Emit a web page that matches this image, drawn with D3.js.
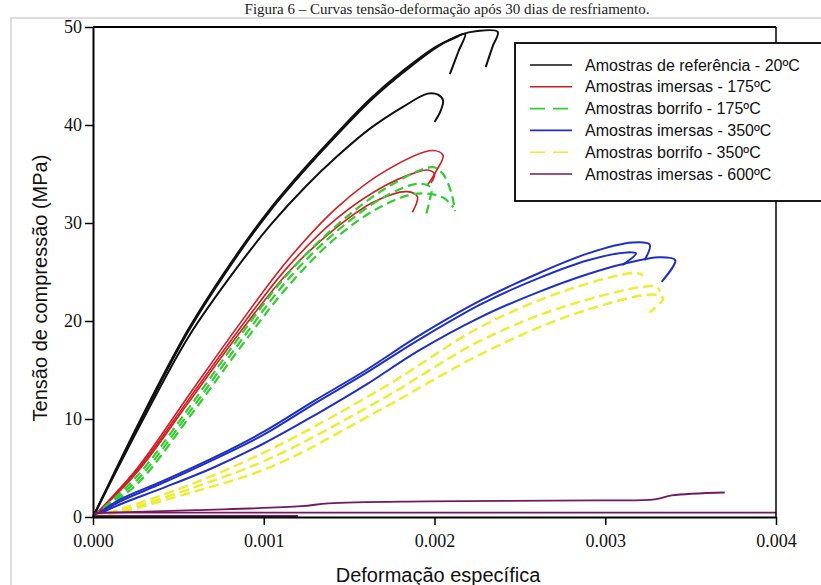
<!DOCTYPE html>
<html>
<head>
<meta charset="utf-8">
<script src="https://cdn.jsdelivr.net/npm/d3@7"></script>
<style>
  body { margin: 0; background: #fff; }
  svg { display: block; }
</style>
</head>
<body>
<svg id="chart" width="821" height="585"></svg>
<script>
// Series names (legend order)
const seriesNames = [
  "Amostras de referência - 20ºC",
  "Amostras imersas - 175ºC",
  "Amostras borrifo - 175ºC",
  "Amostras imersas - 350ºC",
  "Amostras borrifo - 350ºC",
  "Amostras imersas - 600ºC"
];

// Curves: [strain, stress (MPa)]
const ref20a = [[0,0],[0.00028,10],[0.00056,19.2],[0.00085,27],[0.00104,31.5],[0.00125,35.8],[0.00143,39.2],[0.00162,42.6],[0.00182,45.6],[0.00201,48],[0.00212,48.9],[0.00218,49.3],[0.00214,47.5],[0.00209,45.2]];
const ref20b = [[0,0],[0.00028,9.8],[0.00056,19],[0.00085,26.8],[0.00104,31.3],[0.00125,35.6],[0.00143,39],[0.00162,42.4],[0.00182,45.4],[0.00201,47.9],[0.00215,49.2],[0.00225,49.6],[0.00237,49.5],[0.00234,48],[0.0023,45.9]];
const ref20c = [[0,0],[0.00028,9.5],[0.00056,18.4],[0.00085,25.6],[0.00104,29.8],[0.00125,33.8],[0.00143,36.8],[0.00162,39.6],[0.00182,41.9],[0.00196,43.2],[0.00202,43.1],[0.00205,42.5],[0.00203,41.2],[0.002,40.3]];

const im175a = [[0,0],[0.00026,5],[0.000556,12.3],[0.00085,19.5],[0.00114,26.2],[0.00143,31.6],[0.00172,35.4],[0.00199,37.4],[0.00205,36.9],[0.00201,35.3],[0.00196,33.9]];
const im175b = [[0,0],[0.00026,4.8],[0.000556,11.9],[0.00085,19],[0.00114,25.5],[0.00143,30.5],[0.00172,33.9],[0.0019,35.2],[0.00196,35.4],[0.002,35.0],[0.00198,34.1]];
const im175c = [[0,0],[0.00026,4.6],[0.000556,11.6],[0.00085,18.6],[0.00114,24.9],[0.00143,29.6],[0.00165,32.2],[0.00184,33.2],[0.0019,32.7],[0.00189,31.8],[0.00187,31.1]];

const bo175a = [[0,0],[0.00026,4.2],[0.000556,11],[0.00085,18.2],[0.00114,24.8],[0.00143,29.8],[0.00172,33.6],[0.00199,35.7],[0.00205,35],[0.0021,33],[0.00212,31.2]];
const bo175b = [[0,0],[0.00026,3.8],[0.000556,10.5],[0.00085,17.6],[0.00114,24.2],[0.00143,29.2],[0.0017,32.6],[0.0019,34.0],[0.00198,33.6],[0.00197,32.2],[0.00195,30.8]];
const bo175c = [[0,0],[0.00026,3.4],[0.000556,10.0],[0.00085,17.0],[0.00114,23.5],[0.00143,28.6],[0.0017,31.8],[0.0019,33.0],[0.00205,32.6],[0.00211,31.6]];

const im350a = [[0,0],[0.00016,1.8],[0.0004,3.6],[0.0007,6.0],[0.001,8.7],[0.0013,11.9],[0.0016,15.0],[0.0019,18.4],[0.00227,22.1],[0.0026,24.8],[0.0029,26.9],[0.00316,28.0],[0.00326,27.8],[0.00323,26.2]];
const im350b = [[0,0],[0.00016,1.6],[0.0004,3.4],[0.0007,5.8],[0.001,8.4],[0.0013,11.6],[0.0016,14.7],[0.0019,18.0],[0.00227,21.7],[0.0026,24.3],[0.0029,26.2],[0.00313,27.0],[0.00318,26.9],[0.0031,25.7]];
const im350c = [[0,0],[0.00016,1.3],[0.0004,2.9],[0.0007,5.0],[0.001,7.5],[0.0013,10.4],[0.0016,13.5],[0.0019,16.9],[0.00227,20.4],[0.0026,22.9],[0.0029,24.8],[0.0031,25.8],[0.00332,26.5],[0.00341,26.2],[0.00333,24.0]];

const bo350a = [[0,0],[0.00016,0.8],[0.000556,3.2],[0.00104,6.9],[0.00171,13.3],[0.00227,19.4],[0.0028,23.3],[0.00319,24.9],[0.00322,24.6]];
const bo350b = [[0,0],[0.00016,0.6],[0.000556,2.8],[0.00104,6.0],[0.00171,12.2],[0.00227,18.0],[0.0028,21.7],[0.0033,23.5],[0.00332,23.0]];
const bo350c = [[0,0],[0.00016,0.5],[0.000556,2.4],[0.00104,5.1],[0.00171,11.2],[0.00227,16.6],[0.0028,20.6],[0.00328,22.7],[0.00334,22.3],[0.00326,20.9]];

const im600a = [[0,0.4],[0.0006,0.7],[0.00122,1.1],[0.00138,1.4],[0.00195,1.6],[0.00295,1.7],[0.00329,1.8],[0.00339,2.2],[0.0037,2.5]];
const im600b = [[0,0.45],[0.004,0.45]];
const im600c = [[0,0.1],[0.0012,0.1]];

const xTicks = [0, 0.001, 0.002, 0.003, 0.004];
const yTicks = [0, 10, 20, 30, 40, 50];

const colors = ["#111111", "#d01c22", "#33cc33", "#1f2fc4", "#ecec30", "#74195f"];
const dashes = [null, null, "9,5", null, "10,5", null];
const widths = [2, 1.6, 2.2, 2, 2.4, 1.8];

const curves = [
  { s: 0, d: ref20a }, { s: 0, d: ref20b }, { s: 0, d: ref20c },
  { s: 1, d: im175a }, { s: 1, d: im175b }, { s: 1, d: im175c },
  { s: 2, d: bo175a }, { s: 2, d: bo175b }, { s: 2, d: bo175c },
  { s: 3, d: im350a }, { s: 3, d: im350b }, { s: 3, d: im350c },
  { s: 4, d: bo350a }, { s: 4, d: bo350b }, { s: 4, d: bo350c },
  { s: 5, d: im600a }, { s: 5, d: im600b }, { s: 5, d: im600c }
];

const svg = d3.select("#chart");

// light outer frame of the figure
svg.append("rect")
  .attr("x", 11).attr("y", 18)
  .attr("width", 830).attr("height", 600)
  .attr("fill", "none").attr("stroke", "#d4d4d4").attr("stroke-width", 1.5);

// caption
svg.append("text")
  .attr("x", 447).attr("y", 14)
  .attr("text-anchor", "middle")
  .attr("font-family", "Liberation Serif, serif")
  .attr("font-size", 15)
  .attr("fill", "#222")
  .text("Figura 6 – Curvas tensão-deformação após 30 dias de resfriamento.");

const x = d3.scaleLinear().domain([0, 0.004]).range([93, 776]);
const y = d3.scaleLinear().domain([0, 50]).range([517, 27]);

// curves
const line = d3.line()
  .x(d => x(d[0]))
  .y(d => y(d[1]))
  .curve(d3.curveCatmullRom.alpha(0.5));

svg.append("g")
  .selectAll("path")
  .data(curves)
  .enter()
  .append("path")
  .attr("d", d => line(d.d))
  .attr("fill", "none")
  .attr("stroke", d => colors[d.s])
  .attr("stroke-width", d => widths[d.s])
  .attr("stroke-dasharray", d => dashes[d.s])
  .attr("stroke-linejoin", "round");

// frame top / right
svg.append("line")
  .attr("x1", x(0)).attr("x2", x(0.004))
  .attr("y1", y(50)).attr("y2", y(50))
  .attr("stroke", "#000").attr("stroke-width", 2);
svg.append("line")
  .attr("x1", x(0.004)).attr("x2", x(0.004))
  .attr("y1", y(50)).attr("y2", y(0))
  .attr("stroke", "#000").attr("stroke-width", 1.5);

// axes
const xAxis = svg.append("g")
  .attr("transform", `translate(0,${y(0)})`)
  .call(d3.axisBottom(x).tickValues(xTicks).tickFormat(d3.format(".3f")).tickSize(8).tickSizeOuter(0));
const yAxis = svg.append("g")
  .attr("transform", `translate(${x(0)},0)`)
  .call(d3.axisLeft(y).tickValues(yTicks).tickSize(8).tickSizeOuter(0));

[xAxis, yAxis].forEach(g => {
  g.select(".domain").attr("stroke", "#000").attr("stroke-width", 2);
  g.selectAll(".tick line").attr("stroke", "#000").attr("stroke-width", 1.5);
  g.selectAll(".tick text")
    .attr("font-family", "Liberation Serif, serif")
    .attr("font-size", 18)
    .attr("fill", "#111");
});
xAxis.selectAll(".tick text").attr("dy", "1.05em");
yAxis.selectAll(".tick text").attr("x", -11);

// axis titles
svg.append("text")
  .attr("x", 438).attr("y", 582)
  .attr("text-anchor", "middle")
  .attr("font-family", "Liberation Sans, Arial, sans-serif")
  .attr("font-size", 20)
  .attr("fill", "#111")
  .text("Deformação específica");

svg.append("text")
  .attr("transform", "translate(47,288) rotate(-90)")
  .attr("text-anchor", "middle")
  .attr("font-family", "Liberation Sans, Arial, sans-serif")
  .attr("font-size", 20)
  .attr("fill", "#111")
  .text("Tensão de compressão (MPa)");

// legend
const legend = svg.append("g");
legend.append("rect")
  .attr("x", 515).attr("y", 43)
  .attr("width", 320).attr("height", 158)
  .attr("fill", "#fff").attr("stroke", "#000").attr("stroke-width", 1.8);

const rows = legend.selectAll("g.row")
  .data(seriesNames)
  .enter()
  .append("g")
  .attr("class", "row")
  .attr("transform", (d, i) => `translate(0,${65 + i * 21.8})`);

rows.append("line")
  .attr("x1", 530).attr("x2", 572)
  .attr("stroke", (d, i) => colors[i])
  .attr("stroke-width", 1.6)
  .attr("stroke-dasharray", (d, i) => dashes[i] ? "15,8" : null);

rows.append("text")
  .attr("x", 585).attr("dy", "0.35em")
  .attr("font-family", "Liberation Sans, Arial, sans-serif")
  .attr("font-size", 16)
  .attr("fill", "#111")
  .text(d => d);
</script>
</body>
</html>
